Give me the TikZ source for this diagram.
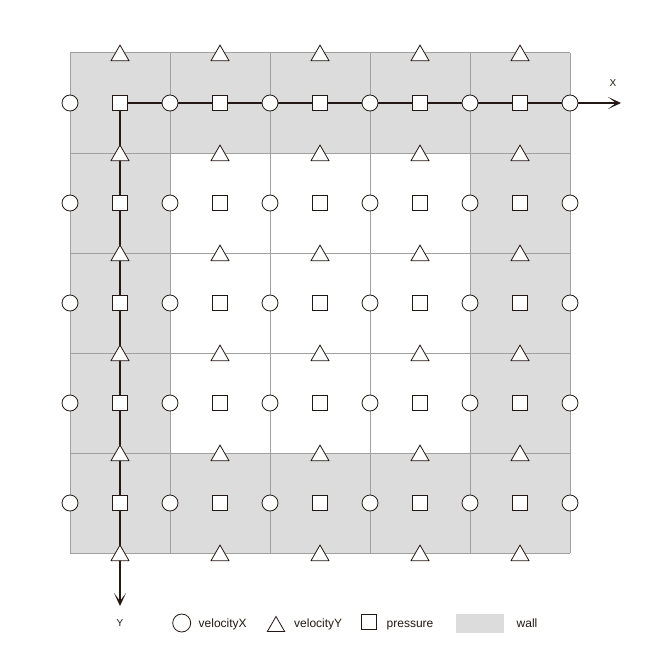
\documentclass[tikz,border=0pt]{standalone}
\usepackage{fontspec}
\setmainfont{Liberation Sans}
\usetikzlibrary{shapes.geometric,arrows.meta}
\definecolor{wallgray}{HTML}{DCDCDC}
\definecolor{gridgray}{HTML}{A0A0A0}
\definecolor{ink}{HTML}{231815}
\begin{document}
\begin{tikzpicture}[x=1pt,y=-1pt,
 vx/.style={circle,draw=ink,fill=white,line width=0.8pt,minimum size=16pt,inner sep=0pt},
 pr/.style={rectangle,draw=ink,fill=white,line width=0.8pt,minimum size=15pt,inner sep=0pt},
 vy/.style={regular polygon,regular polygon sides=3,draw=ink,fill=white,line width=0.8pt,minimum size=20.8pt,inner sep=0pt,outer sep=0pt,yshift=-2.5pt},
 lbl/.style={font=\fontsize{12}{14}\selectfont,text=ink,inner sep=0pt,anchor=base west},
 axlbl/.style={font=\fontsize{10}{12}\selectfont,text=ink,inner sep=0pt},
 gridline/.style={draw=gridgray,line width=1pt},
 axis/.style={draw=ink,line width=1.4pt,-{Stealth[length=13pt,width=12pt,inset=8pt]}},
]
\useasboundingbox (0,0) rectangle (650,650);
\fill[white] (0,0) rectangle (650,650);
% walls
\fill[wallgray] (70,53) rectangle (570,553);
\fill[white] (170,153) rectangle (470,453);
% grid
\foreach \x in {70,170,...,570} \draw[gridline] (\x,53) -- (\x,553);
\foreach \y in {53,153,...,553} \draw[gridline] (70,\y) -- (570,\y);
% axes
\coordinate (o) at (120,103);
\coordinate (xend) at (621,103);
\coordinate (yend) at (120,606);
\draw[axis] (o) -- (xend);
\draw[axis] (o) -- (yend);
% markers
\foreach \j in {0,...,4}{
  \foreach \i in {0,...,5}{
    \node[vx] (u-\i-\j) at (70+100*\i,103+100*\j) {};
  }
  \foreach \i in {0,...,4}{
    \node[pr] (p-\i-\j) at (120+100*\i,103+100*\j) {};
  }
}
\foreach \j in {0,...,5}{
  \foreach \i in {0,...,4}{
    \node[vy] (v-\i-\j) at (120+100*\i,53+100*\j) {};
  }
}
% axis labels
\node[axlbl] (xl) at (613,83) {X};
\node[axlbl] (yl) at (120,623) {Y};
% legend
\node[vx,minimum size=18pt] (lu) at (181.7,623) {};
\node[lbl] (lut) at (198.5,627.7) {velocityX};
\node[vy,minimum size=20pt] (lv) at (276,624) {};
\node[lbl] (lvt) at (294,627.7) {velocityY};
\node[pr] (lp) at (369,622) {};
\node[lbl] (lpt) at (386.5,627.7) {pressure};
\fill[wallgray] (455.7,614.3) rectangle (504,633.3);
\node[lbl] (lwt) at (516.5,627.7) {wall};
\end{tikzpicture}
\end{document}
